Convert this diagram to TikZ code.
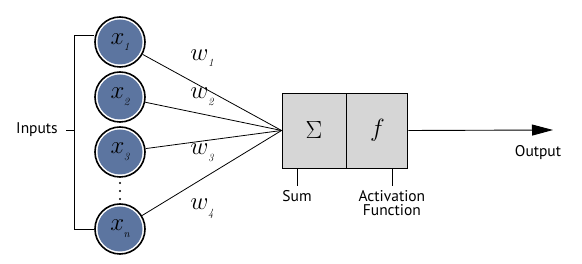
\documentclass[tikz,border=0pt]{standalone}
\usepackage{fontspec}
\setsansfont{PT Sans}
\usetikzlibrary{positioning,arrows.meta}

\definecolor{inblue}{RGB}{92,117,160}
\definecolor{boxgray}{RGB}{214,214,214}

% italic symbol with a small low index
\newcommand\var[2]{{$#1$\kern-0.5pt\raisebox{-0.5ex}{\fontsize{11}{11}\selectfont$\mathit{#2}$}}}

\begin{document}
\begin{tikzpicture}[x=1pt,y=-1pt,
  font=\sffamily\fontsize{15.5}{14}\selectfont,
  input/.style={circle,draw=black,line width=1.6pt,fill=white,minimum size=50pt,inner sep=0pt,
    path picture={\fill[inblue] (path picture bounding box.center) circle (22.5pt);},
    font=\fontsize{31}{31}\selectfont},
  half/.style={draw,line width=0.9pt,fill=boxgray,minimum height=75pt,inner sep=0pt},
  weight/.style={font=\fontsize{31}{31}\selectfont},
  wire/.style={line width=0.8pt},
  arrow/.style={-{Triangle[length=21pt,width=11pt]},line width=0.9pt},
]
  \useasboundingbox (0,0) rectangle (582,264);

  % Input neurons.
  \node[input] (x1) at (120,42) {\var{x}{1}};
  \node[input] (x2) at (120,97) {\var{x}{2}};
  \node[input] (x3) at (120,152) {\var{x}{3}};
  \node[input] (xn) at (120,229) {\var{x}{n}};
  \foreach \y in {183,191,199}
    \fill (120,\y) circle (1.2pt);

  % Bracket grouping the inputs.
  \node (inputs) at (37,130) {Inputs};
  \coordinate (brk) at (75,130);
  \draw[wire] ([yshift=7pt]x1.west) -- ++(-20,0) |- (xn.west);
  \draw[wire] ([xshift=5pt]inputs.east) -- (brk);

  % Summation and activation.
  \node[half,minimum width=64pt,font=\fontsize{36}{36}\selectfont] (sum) at (314,130.5) {$\Sigma$};
  \node[half,minimum width=61pt,right=0pt of sum,font=\fontsize{33}{33}\selectfont] (act) {$f$};

  % Weighted connections.
  \draw[wire] (x1) -- (sum.west);
  \draw[wire] (x2) -- (sum.west);
  \draw[wire] (x3) -- (sum.west);
  \draw[wire] (xn) -- (sum.west);
  \node[weight] at (202,58) {\var{w}{1}};
  \node[weight] at (202,97) {\var{w}{2}};
  \node[weight] at (202,153) {\var{w}{3}};
  \node[weight] at (202,209) {\var{w}{4}};

  % Labels under the box.
  \draw[wire] ([xshift=-17pt]sum.south) -- ++(0,18) node[below=0pt] {Sum};
  \draw[wire] ([xshift=14.5pt]act.south) -- ++(0,18)
    node[below=0pt,align=center] {Activation\\Function};

  % Output.
  \coordinate (out) at (553,130);
  \draw[arrow] (act.east) -- (out);
  \node at (538,153) {Output};
\end{tikzpicture}
\end{document}
